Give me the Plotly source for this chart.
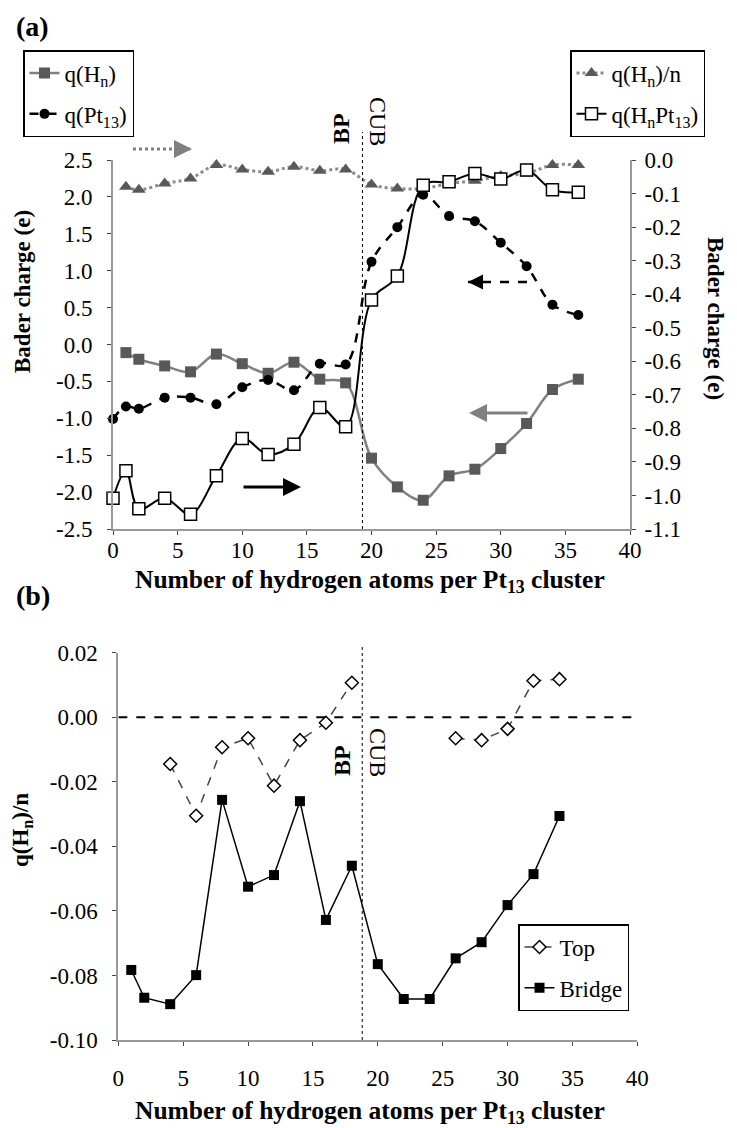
import plotly.graph_objects as go

# ---- panel (a): Bader charges vs number of H atoms ----
n_a = [0, 1, 2, 4, 6, 8, 10, 12, 14, 16, 18, 20, 22, 24, 26, 28, 30, 32, 34, 36]
q_hn = [None, -0.11, -0.20, -0.29, -0.37, -0.13, -0.26, -0.39, -0.24, -0.47, -0.52,
        -1.54, -1.93, -2.11, -1.78, -1.69, -1.41, -1.07, -0.61, -0.47]
q_pt13 = [-1.01, -0.84, -0.87, -0.72, -0.72, -0.81, -0.58, -0.48, -0.62, -0.26, -0.27,
          1.12, 1.59, 2.03, 1.74, 1.67, 1.38, 1.06, 0.54, 0.40]
q_hn_per_n = [None, -0.080, -0.089, -0.070, -0.055, -0.015, -0.028, -0.035, -0.020, -0.032, -0.028,
              -0.073, -0.085, -0.085, -0.070, -0.062, -0.048, -0.040, -0.015, -0.015]
q_hnpt13 = [-1.008, -0.926, -1.040, -1.008, -1.056, -0.941, -0.830, -0.878, -0.847, -0.738, -0.795,
            -0.417, -0.346, -0.075, -0.065, -0.040, -0.057, -0.030, -0.089, -0.096]

# ---- panel (b): q(Hn)/n for top and bridge sites ----
n_b = [1, 2, 4, 6, 8, 10, 12, 14, 16, 18, 20, 22, 24, 26, 28, 30, 32, 34]
top = [None, None, -0.0145, -0.0305, -0.0093, -0.0065, -0.0212, -0.0071, -0.0017, 0.0107,
       None, None, None, -0.0065, -0.0071, -0.0036, 0.0113, 0.0118]
bridge = [-0.0783, -0.0869, -0.0889, -0.0799, -0.0256, -0.0525, -0.0489, -0.0260, -0.0628, -0.0460,
          -0.0765, -0.0873, -0.0873, -0.0747, -0.0697, -0.0582, -0.0486, -0.0306]

# tick labels
x_ticks = [0, 5, 10, 15, 20, 25, 30, 35, 40]
ya_ticks = [2.5, 2.0, 1.5, 1.0, 0.5, 0.0, -0.5, -1.0, -1.5, -2.0, -2.5]
ya2_ticks = [0.0, -0.1, -0.2, -0.3, -0.4, -0.5, -0.6, -0.7, -0.8, -0.9, -1.0, -1.1]
yb_ticks = [0.02, 0.00, -0.02, -0.04, -0.06, -0.08, -0.10]

W, H = 737, 1128
OFF = 8  # page body margin
SERIF = "Liberation Serif"


def px(x):
    return (x - OFF) / W


def py(y):
    return 1 - (y - OFF) / H


fig = go.Figure()

fig.add_trace(go.Scatter(x=n_a, y=q_hn, name="q(H<sub>n</sub>)", mode="lines+markers",
                         line=dict(color="#808080", width=2.5, shape="spline"),
                         marker=dict(symbol="square", size=11, color="#595959"),
                         legend="legend", legendgroup="a1", cliponaxis=False))
fig.add_trace(go.Scatter(x=n_a, y=q_pt13, name="q(Pt<sub>13</sub>)", mode="lines+markers",
                         line=dict(color="black", width=2.5, dash="dash", shape="spline"),
                         marker=dict(symbol="circle", size=10, color="black"),
                         legend="legend", legendgroup="a2", cliponaxis=False))
fig.add_trace(go.Scatter(x=n_a, y=q_hn_per_n, name="q(H<sub>n</sub>)/n", mode="lines+markers",
                         line=dict(color="#8c8c8c", width=3, dash="dot", shape="spline"),
                         marker=dict(symbol="triangle-up", size=12, color="#595959"),
                         yaxis="y2", legend="legend2", legendgroup="a3", cliponaxis=False))
fig.add_trace(go.Scatter(x=n_a, y=q_hnpt13, name="q(H<sub>n</sub>Pt<sub>13</sub>)", mode="lines+markers",
                         line=dict(color="black", width=2, shape="spline"),
                         marker=dict(symbol="square", size=12, color="white",
                                     line=dict(color="black", width=1.5)),
                         yaxis="y2", legend="legend2", legendgroup="a4", cliponaxis=False))

fig.add_trace(go.Scatter(x=n_b, y=top, name="Top", mode="lines+markers",
                         line=dict(color="#444444", width=1.5, dash="dash"),
                         marker=dict(symbol="diamond", size=10, color="white",
                                     line=dict(color="black", width=1.5)),
                         xaxis="x2", yaxis="y3", legend="legend3", legendgroup="b1", cliponaxis=False))
fig.add_trace(go.Scatter(x=n_b, y=bridge, name="Bridge", mode="lines+markers",
                         line=dict(color="black", width=1.5),
                         marker=dict(symbol="square", size=10, color="black"),
                         xaxis="x2", yaxis="y3", legend="legend3", legendgroup="b2", cliponaxis=False))

axis_style = dict(showline=True, linecolor="#999999", linewidth=2, ticks="outside", ticklen=4,
                  tickcolor="#444444", tickwidth=1, showgrid=False, zeroline=False,
                  automargin=False, tickfont=dict(family=SERIF, size=23, color="black"))

fig.update_layout(
    width=W, height=H, margin=dict(l=0, r=0, t=0, b=0, autoexpand=False),
    plot_bgcolor="white", paper_bgcolor="white",
    font=dict(family=SERIF, color="black"),
    xaxis=dict(domain=[px(113), px(630)], range=[0, 40], anchor="y", tickvals=x_ticks,
               ticklabelstandoff=-5, **axis_style),
    yaxis=dict(domain=[py(529), py(160)], range=[-2.5, 2.5], anchor="x", tickvals=ya_ticks,
               ticktext=[f"{v:.1f}" for v in ya_ticks], ticklabelstandoff=10, **axis_style),
    yaxis2=dict(overlaying="y", side="right", anchor="x", range=[-1.1, 0.0], tickvals=ya2_ticks,
                ticktext=[f"{v:.1f}" for v in ya2_ticks], ticklabelstandoff=4, **axis_style),
    xaxis2=dict(domain=[px(118.3), px(637.3)], range=[0, 40], anchor="y3", tickvals=x_ticks,
                ticklabelstandoff=12, **axis_style),
    yaxis3=dict(domain=[py(1040), py(652.7)], range=[-0.10, 0.02], anchor="x2", tickvals=yb_ticks,
                ticktext=[f"{v:.2f}" for v in yb_ticks], ticklabelstandoff=10, **axis_style),
)

leg_style = dict(bordercolor="black", borderwidth=1.5, bgcolor="white", tracegroupgap=8,
                 font=dict(family=SERIF, size=23, color="black"),
                 xanchor="left", yanchor="top", itemwidth=30)
fig.update_layout(
    legend=dict(x=px(23), y=py(50), **leg_style),
    legend2=dict(x=px(570), y=py(50), **leg_style),
    legend3=dict(x=px(518), y=py(924), **leg_style),
)

# vertical BP/CUB separators and zero line
fig.add_shape(type="line", xref="x", yref="paper", x0=19.3, x1=19.3, y0=py(529), y1=py(132),
              line=dict(color="black", width=1, dash="dot"))
fig.add_shape(type="line", xref="x2", yref="paper", x0=18.8, x1=18.8, y0=py(1040), y1=py(645),
              line=dict(color="black", width=1, dash="dot"))
fig.add_shape(type="line", xref="x2", yref="y3", x0=0, x1=40, y0=0, y1=0,
              line=dict(color="black", width=2, dash="dash"))


def arrow(tail, head, color, dash=None, width=3):
    if dash:
        fig.add_shape(type="line", xref="paper", yref="paper",
                      x0=px(tail[0]), y0=py(tail[1]), x1=px(head[0]), y1=py(head[1]),
                      line=dict(color=color, width=width, dash=dash))
        ax = -14 if head[0] > tail[0] else 14
    else:
        ax = tail[0] - head[0]
    fig.add_annotation(xref="paper", yref="paper", x=px(head[0]), y=py(head[1]),
                       ax=ax, ay=0, text="", showarrow=True, arrowhead=2, arrowsize=1.2,
                       arrowwidth=width, arrowcolor=color)


arrow((133, 149), (192, 149), "#808080", dash="dot")
arrow((527, 282), (468, 282), "black", dash="dash", width=2.5)
arrow((529, 413), (469, 413), "#808080")
arrow((242, 487), (301, 487), "black")

ann = [
    dict(x=px(14), y=py(27), text="<b>(a)</b>", size=28, xanchor="left"),
    dict(x=px(14), y=py(595), text="<b>(b)</b>", size=28, xanchor="left"),
    dict(x=px(341), y=py(129), text="<b>BP</b>", size=24, angle=-90),
    dict(x=px(378), y=py(121), text="CUB", size=24, angle=90),
    dict(x=px(342), y=py(761), text="<b>BP</b>", size=24, angle=-90),
    dict(x=px(378), y=py(752), text="CUB", size=24, angle=90),
    dict(x=px(370), y=py(581), text="<b>Number of hydrogen atoms per Pt<sub>13</sub> cluster</b>", size=25.5),
    dict(x=px(370), y=py(1112), text="<b>Number of hydrogen atoms per Pt<sub>13</sub> cluster</b>", size=25.5),
    dict(x=px(22), y=py(292), text="<b>Bader charge (e)</b>", size=23, angle=-90),
    dict(x=px(716), y=py(318), text="<b>Bader charge (e)</b>", size=23, angle=90),
    dict(x=px(22), y=py(830), text="<b>q(H<sub>n</sub>)/n</b>", size=23, angle=-90),
]
for a in ann:
    fig.add_annotation(xref="paper", yref="paper", x=a["x"], y=a["y"], text=a["text"],
                       showarrow=False, textangle=a.get("angle", 0),
                       xanchor=a.get("xanchor", "center"), yanchor="middle",
                       font=dict(family=SERIF, size=a["size"], color="black"))

fig.write_html("out.html")
